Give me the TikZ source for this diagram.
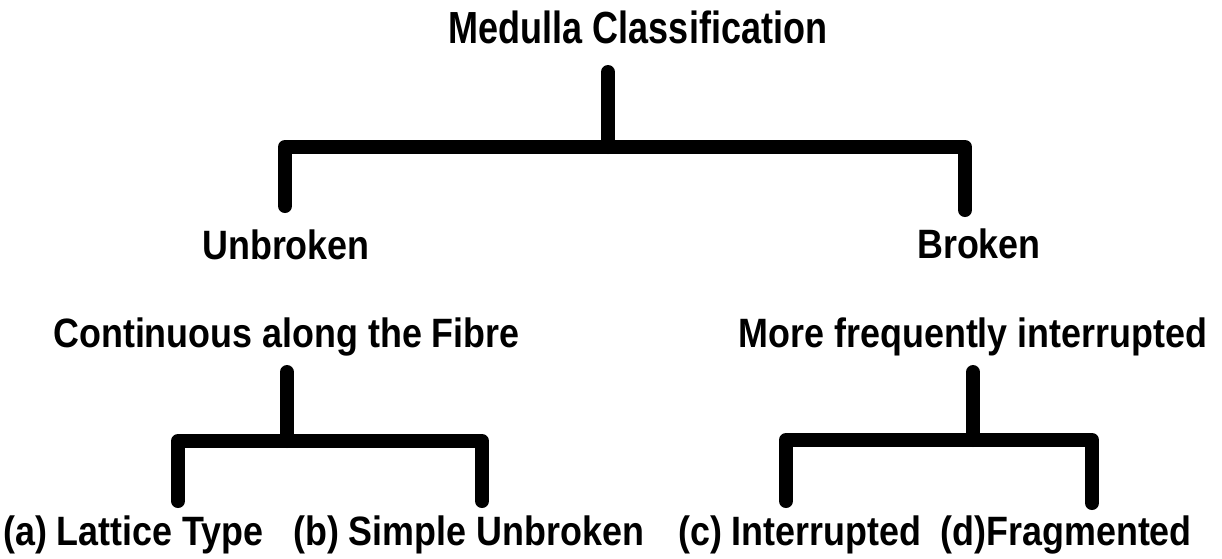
\documentclass[tikz,border=0pt]{standalone}
\usepackage{fontspec}
\newfontfamily\titlefont{Liberation Sans}[FakeStretch=0.8]
\newfontfamily\labelfont{Liberation Sans}[FakeStretch=0.875]

\begin{document}
\begin{tikzpicture}[
			x=1pt, y=-1pt,
			heading/.style={font=\titlefont\bfseries\fontsize{45}{45}\selectfont, inner sep=0pt, anchor=base},
			lbl/.style={font=\labelfont\bfseries\fontsize{41}{41}\selectfont, inner sep=0pt, anchor=base},
			link/.style={line width=14pt, line cap=round, line join=round}
			]
			\useasboundingbox (0,0) rectangle (1222,558);
			
			\node[heading] (medulla) at (638,43) {Medulla Classification};
			\node[lbl] (unbroken) at (286,259) {Unbroken};
			\node[lbl] (broken) at (979,258) {Broken};
			\node[lbl] (continuous) at (286.5,347) {Continuous along the Fibre};
			\node[lbl] (frequent) at (973,347) {More frequently interrupted};
			\node[lbl, anchor=base west] (lattice) at (3,545) {(a) Lattice Type};
			\node[lbl, anchor=base west] (simple) at (293,545) {(b) Simple Unbroken};
			\node[lbl, anchor=base west] (interrupted) at (678,545) {(c) Interrupted};
			\node[lbl, anchor=base east] (fragmented) at (1192,545) {(d)Fragmented};
			
			\coordinate (s0) at (608,72);
			\coordinate (j0) at (608,147);
			\coordinate (l0) at (285,206);
			\coordinate (r0) at (965,210);
			\coordinate (s1) at (287,372);
			\coordinate (j1) at (287,441);
			\coordinate (l1) at (178,501);
			\coordinate (r1) at (482,501);
			\coordinate (s2) at (973,372);
			\coordinate (j2) at (973,440);
			\coordinate (l2) at (786,501);
			\coordinate (r2) at (1092,503);
			
			\draw[link] (s0) -- (j0);
			\draw[link] (l0) |- (r0 |- j0) -- (r0);
			\draw[link] (s1) -- (j1);
			\draw[link] (l1) |- (r1 |- j1) -- (r1);
			\draw[link] (s2) -- (j2);
			\draw[link] (l2) |- (r2 |- j2) -- (r2);
		\end{tikzpicture}
\end{document}
